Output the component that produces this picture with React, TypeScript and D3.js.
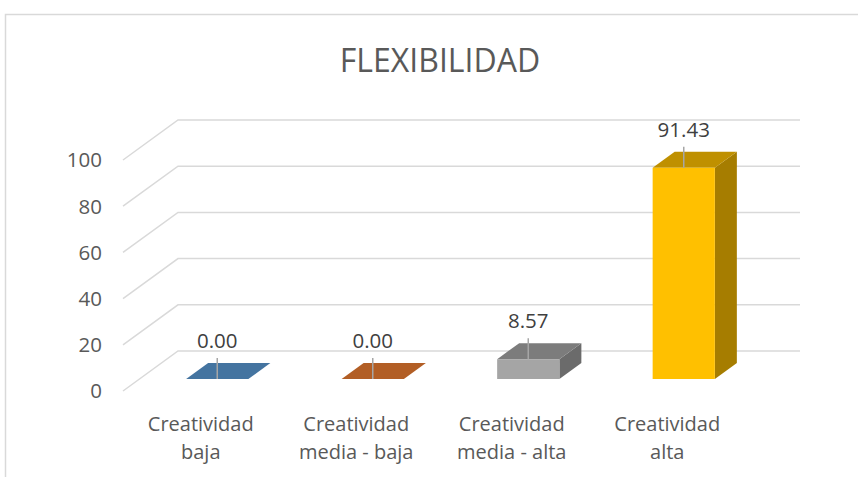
import React from "react";
import * as d3 from "d3";

const categories: string[][] = [
  ["Creatividad", "baja"],
  ["Creatividad", "media - baja"],
  ["Creatividad", "media - alta"],
  ["Creatividad", "alta"],
];
const values: number[] = [0.0, 0.0, 8.57, 91.43];
const colors: string[] = ["#5b9bd5", "#ed7d31", "#a5a5a5", "#ffc000"];
const yTicks: number[] = [0, 20, 40, 60, 80, 100];
const title = "FLEXIBILIDAD";

const W = 858;
const H = 477;
const FRONT_L = 123;
const FRONT_R = 745;
const DX = 55;
const DY = -40;
const BAR_D0 = 0.3;
const BAR_D1 = 0.7;
const FONT = "'Open Sans', 'DejaVu Sans', sans-serif";
const TXT = "#595959";

export default function App() {
  const keys = categories.map((c) => c.join(" "));
  const x = d3.scaleBand<string>().domain(keys).range([FRONT_L, FRONT_R]).paddingInner(0.6).paddingOuter(0.3);
  const y = d3.scaleLinear().domain([0, 100]).range([391, 160]);
  const shade = (c: string, k: number) => {
    const r = d3.rgb(c);
    return d3.rgb(r.r * k, r.g * k, r.b * k).formatHex();
  };
  const pts = (a: number[][]) => a.map((p) => p.join(",")).join(" ");

  return (
    <svg width={W} height={H} style={{ position: "absolute", left: 0, top: 0, background: "#fff" }}>
      <rect x={5.5} y={14.5} width={W + 20} height={H + 20} fill="#fff" stroke="#d9d9d9" strokeWidth={1.5} />
      <text x={440} y={72} textAnchor="middle" fontFamily={FONT} fontSize={32} fill={TXT}>
        {title}
      </text>
      {yTicks.map((t) => (
        <g key={t}>
          <polyline
            points={pts([
              [FRONT_L, y(t)],
              [FRONT_L + DX, y(t) + DY],
              [FRONT_R + DX, y(t) + DY],
            ])}
            fill="none"
            stroke="#d9d9d9"
            strokeWidth={1.5}
          />
          <text x={102} y={y(t)} dy="0.36em" textAnchor="end" fontFamily={FONT} fontSize={20.5} fill={TXT}>
            {t}
          </text>
        </g>
      ))}
      {values.map((v, i) => {
        const bx = (x(keys[i]) as number) + BAR_D0 * DX;
        const bw = x.bandwidth();
        const by0 = y(0) + BAR_D0 * DY;
        const byT = y(v) + BAR_D0 * DY;
        const ddx = (BAR_D1 - BAR_D0) * DX;
        const ddy = (BAR_D1 - BAR_D0) * DY;
        const c = colors[i];
        const cx = bx + bw / 2;
        const lineTop = byT - 21;
        return (
          <g key={i}>
            <polygon
              points={pts([
                [bx + bw, by0],
                [bx + bw + ddx, by0 + ddy],
                [bx + bw + ddx, byT + ddy],
                [bx + bw, byT],
              ])}
              fill={shade(c, 0.65)}
            />
            <polygon
              points={pts([
                [bx, byT],
                [bx + bw, byT],
                [bx + bw + ddx, byT + ddy],
                [bx + ddx, byT + ddy],
              ])}
              fill={shade(c, 0.75)}
            />
            <rect x={bx} y={byT} width={bw} height={by0 - byT} fill={c} />
            <line x1={cx} x2={cx} y1={lineTop} y2={byT} stroke="#a6a6a6" strokeWidth={1.5} />
            <text x={cx} y={lineTop - 10} textAnchor="middle" fontFamily={FONT} fontSize={20.5} fill="#404040">
              {v.toFixed(2)}
            </text>
          </g>
        );
      })}
      {categories.map((lines, i) => {
        const cx = (x(keys[i]) as number) + x.bandwidth() / 2;
        return (
          <text key={i} textAnchor="middle" fontFamily={FONT} fontSize={20} fill={TXT}>
            {lines.map((l, j) => (
              <tspan key={j} x={cx} y={431 + j * 28}>
                {l}
              </tspan>
            ))}
          </text>
        );
      })}
    </svg>
  );
}
